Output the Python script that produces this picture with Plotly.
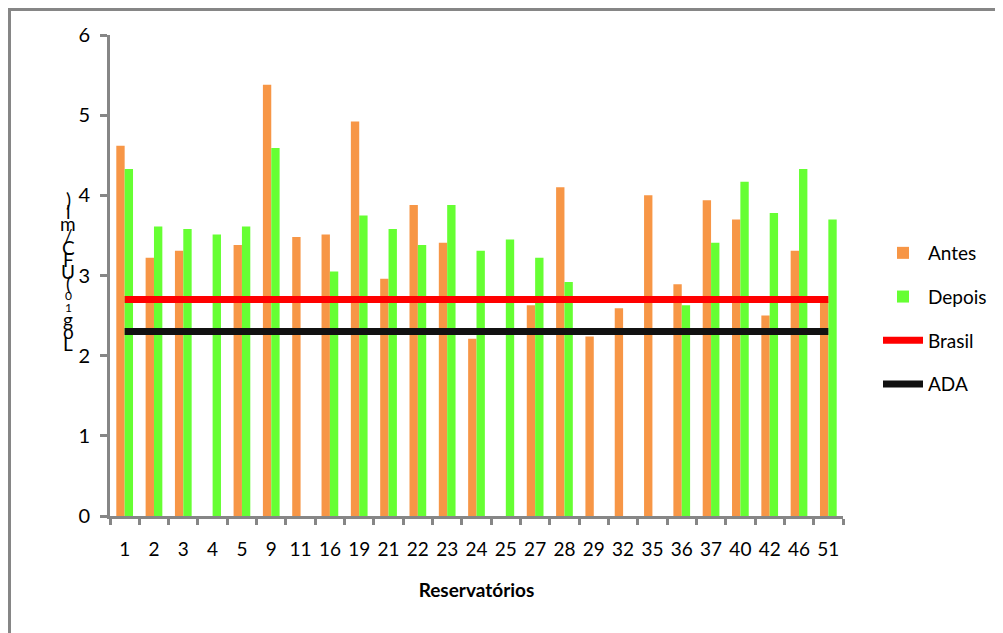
import plotly.graph_objects as go

categories = ["1", "2", "3", "4", "5", "9", "11", "16", "19", "21", "22", "23", "24",
              "25", "27", "28", "29", "32", "35", "36", "37", "40", "42", "46", "51"]
antes = [4.62, 3.22, 3.31, None, 3.38, 5.38, 3.48, 3.51, 4.92, 2.96, 3.88, 3.41, 2.21,
         None, 2.63, 4.10, 2.24, 2.59, 4.00, 2.89, 3.94, 3.70, 2.50, 3.31, 2.68]
depois = [4.33, 3.61, 3.58, 3.51, 3.61, 4.59, None, 3.05, 3.75, 3.58, 3.38, 3.88, 3.31,
          3.45, 3.22, 2.92, None, None, None, 2.63, 3.41, 4.17, 3.78, 4.33, 3.70]
brasil_value = 2.7
ada_value = 2.3
y_ticks = [0, 1, 2, 3, 4, 5, 6]
y_title_chars = [")", "l", "m", "/", "C", "F", "U", "(", "0", "1", "g", "o", "L"]

FONT = "Lato, 'Open Sans', Arial, sans-serif"
AXIS_GRAY = "#868686"

fig = go.Figure()
fig.add_trace(go.Bar(name="Antes", x=categories, y=antes, marker_color="#F79646",
                     marker_line_width=0, legendgroup="a"))
fig.add_trace(go.Bar(name="Depois", x=categories, y=depois, marker_color="#66FF33",
                     marker_line_width=0, legendgroup="b"))
fig.add_trace(go.Scatter(name="Brasil", x=categories, y=[brasil_value] * len(categories),
                         mode="lines", line=dict(color="#FF0000", width=7), legendgroup="c"))
fig.add_trace(go.Scatter(name="ADA", x=categories, y=[ada_value] * len(categories),
                         mode="lines", line=dict(color="#111111", width=7), legendgroup="d"))

# page body has an 8px margin: figure is offset by 8px in the page
OFF = 8
W, H = 1003 - OFF, 633 - OFF
L, T = 110 - OFF, 35 - OFF
R = W - (843 - OFF)
B = H - (516 - OFF)
pw, ph = W - L - R, H - T - B

def px_x(page_x):
    return (page_x - OFF - L) / pw

def px_y(page_y):
    return (H - B - (page_y - OFF)) / ph

annotations = []
n = len(y_title_chars)
top_y, bot_y = 199, 343
for i, ch in enumerate(y_title_chars):
    yy = top_y + (bot_y - top_y) * i / (n - 1)
    small = ch in ("0", "1")
    annotations.append(dict(text=ch, x=px_x(68), y=px_y(yy), xref="paper", yref="paper",
                            showarrow=False, xanchor="center", yanchor="middle",
                            font=dict(family=FONT, size=12 if small else 19, color="#000000")))

fig.update_layout(
    width=W, height=H,
    margin=dict(l=L, r=R, t=T, b=B, autoexpand=False),
    paper_bgcolor="white", plot_bgcolor="white",
    barmode="group", bargap=0.43, bargroupgap=0.0,
    font=dict(family=FONT, size=19, color="#000000"),
    showlegend=True,
    legend=dict(x=px_x(878), xanchor="left", y=px_y(234), yanchor="top",
                font=dict(family=FONT, size=19, color="#000000"),
                tracegroupgap=16, itemwidth=40, bgcolor="rgba(0,0,0,0)"),
    xaxis=dict(type="category", showgrid=False, showline=True, linecolor=AXIS_GRAY,
               linewidth=3, ticks="outside", tickson="boundaries", ticklen=6,
               tickwidth=3, tickcolor=AXIS_GRAY, ticklabelstandoff=14, tickangle=0,
               automargin=False,
               tickfont=dict(family=FONT, size=19, color="#000000"),
               title=dict(text="<b>Reservatórios</b>", standoff=25,
                          font=dict(family=FONT, size=19, color="#000000"))),
    yaxis=dict(range=[0, 6], tickvals=y_ticks, showgrid=False, zeroline=False,
               showline=True, linecolor=AXIS_GRAY, linewidth=3, ticks="outside",
               ticklen=7, tickwidth=3, tickcolor=AXIS_GRAY, ticklabelstandoff=6,
               automargin=False,
               tickfont=dict(family=FONT, size=20, color="#000000")),
    annotations=annotations,
    shapes=[dict(type="rect", xref="paper", yref="paper",
                 x0=px_x(9.5), x1=px_x(1030), y0=px_y(660), y1=px_y(9.5),
                 line=dict(color=AXIS_GRAY, width=3), fillcolor="rgba(0,0,0,0)", layer="below")],
)

fig.write_html("out.html")
